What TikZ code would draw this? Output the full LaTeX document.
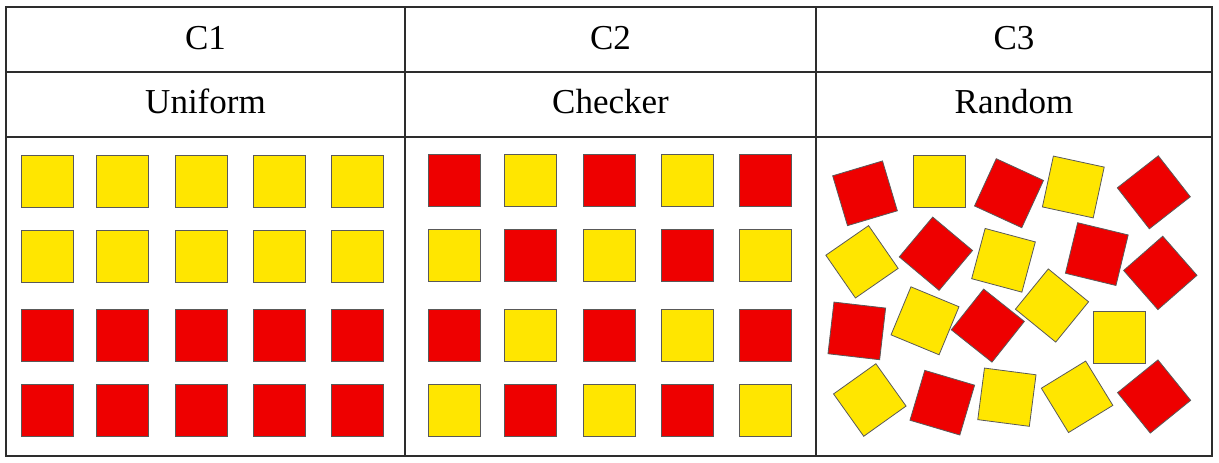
\documentclass[tikz,border=0pt]{standalone}
\usepackage{fontspec}
\setmainfont{Liberation Serif}
\usepackage{xcolor}
\definecolor{sqyellow}{RGB}{255,230,0}
\definecolor{sqred}{RGB}{238,0,0}
\definecolor{gridline}{RGB}{45,45,45}

\begin{document}
\begin{tikzpicture}[x=1pt, y=-1pt]
  \tikzset{
    yellowsq/.style={
      draw=black!65,
      line width=0.8pt,
      minimum size=52pt,
      inner sep=0pt,
      anchor=center,
      fill=sqyellow
    },
    redsq/.style={
      draw=black!65,
      line width=0.8pt,
      minimum size=52pt,
      inner sep=0pt,
      anchor=center,
      fill=sqred
    },
    header/.style={
      font=\fontsize{35}{42}\selectfont,
      anchor=base,
      inner sep=0pt
    }
  }
  \useasboundingbox (0,0) rectangle (1219,463);

  % Draw the table frame
  \draw[gridline, line width=1.4pt] (6,7) rectangle (1212,456);
  \draw[gridline, line width=1.4pt] (6,72) -- (1212,72);
  \draw[gridline, line width=1.4pt] (6,137) -- (1212,137);
  \draw[gridline, line width=1.4pt] (405,7) -- (405,456);
  \draw[gridline, line width=1.4pt] (816,7) -- (816,456);

  % Column headers
  \node[header] at (205.5, 49.5) (c1) {C1};
  \node[header] at (610.5, 49.5) (c2) {C2};
  \node[header] at (1014, 49.5) (c3) {C3};
  \node[header] at (205.5, 113) (uniform) {Uniform};
  \node[header] at (610.5, 113) (checker) {Checker};
  \node[header] at (1014, 113) (random) {Random};

  % C1: uniform rows
  \node[yellowsq] at (47.5, 181) (uni11) {};
  \node[yellowsq] at (122, 181) (uni12) {};
  \node[yellowsq] at (201, 181) (uni13) {};
  \node[yellowsq] at (279, 181) (uni14) {};
  \node[yellowsq] at (357, 181) (uni15) {};
  \node[yellowsq] at (47.5, 256) (uni21) {};
  \node[yellowsq] at (122, 256) (uni22) {};
  \node[yellowsq] at (201, 256) (uni23) {};
  \node[yellowsq] at (279, 256) (uni24) {};
  \node[yellowsq] at (357, 256) (uni25) {};
  \node[redsq] at (47.5, 335.5) (uni31) {};
  \node[redsq] at (122, 335.5) (uni32) {};
  \node[redsq] at (201, 335.5) (uni33) {};
  \node[redsq] at (279, 335.5) (uni34) {};
  \node[redsq] at (357, 335.5) (uni35) {};
  \node[redsq] at (47.5, 410.5) (uni41) {};
  \node[redsq] at (122, 410.5) (uni42) {};
  \node[redsq] at (201, 410.5) (uni43) {};
  \node[redsq] at (279, 410.5) (uni44) {};
  \node[redsq] at (357, 410.5) (uni45) {};

  % C2: checker pattern
  \node[redsq] at (454, 180.5) (chk11) {};
  \node[yellowsq] at (530, 180.5) (chk12) {};
  \node[redsq] at (609, 180.5) (chk13) {};
  \node[yellowsq] at (687.5, 180.5) (chk14) {};
  \node[redsq] at (765.5, 180.5) (chk15) {};
  \node[yellowsq] at (454, 255.5) (chk21) {};
  \node[redsq] at (530, 255.5) (chk22) {};
  \node[yellowsq] at (609, 255.5) (chk23) {};
  \node[redsq] at (687.5, 255.5) (chk24) {};
  \node[yellowsq] at (765.5, 255.5) (chk25) {};
  \node[redsq] at (454, 335) (chk31) {};
  \node[yellowsq] at (530, 335) (chk32) {};
  \node[redsq] at (609, 335) (chk33) {};
  \node[yellowsq] at (687.5, 335) (chk34) {};
  \node[redsq] at (765.5, 335) (chk35) {};
  \node[yellowsq] at (454, 410) (chk41) {};
  \node[redsq] at (530, 410) (chk42) {};
  \node[yellowsq] at (609, 410) (chk43) {};
  \node[redsq] at (687.5, 410) (chk44) {};
  \node[yellowsq] at (765.5, 410) (chk45) {};

  % C3: random placement and tilt
  \node[redsq, rotate=16.6] at (865, 193.3) (rnd1) {};
  \node[yellowsq] at (939.3, 181.2) (rnd2) {};
  \node[redsq, rotate=-24.7] at (1009, 193.2) (rnd3) {};
  \node[yellowsq, rotate=-12.2] at (1073.3, 187) (rnd4) {};
  \node[redsq, rotate=38] at (1153.8, 192.3) (rnd5) {};
  \node[yellowsq, rotate=34.7] at (862, 261.8) (rnd6) {};
  \node[redsq, rotate=-40] at (935.9, 253.7) (rnd7) {};
  \node[yellowsq, rotate=-15] at (1003.5, 260.3) (rnd8) {};
  \node[redsq, rotate=-13.6] at (1096.8, 254.1) (rnd9) {};
  \node[redsq, rotate=41.2] at (1160.3, 272.9) (rnd10) {};
  \node[redsq, rotate=-6.6] at (856.8, 330.9) (rnd11) {};
  \node[yellowsq, rotate=-22.5] at (925, 320.8) (rnd12) {};
  \node[redsq, rotate=-38.5] at (987.8, 325.6) (rnd13) {};
  \node[yellowsq, rotate=-39.2] at (1052, 305.5) (rnd14) {};
  \node[yellowsq] at (1119.7, 337) (rnd15) {};
  \node[yellowsq, rotate=35.5] at (869.8, 400) (rnd16) {};
  \node[redsq, rotate=-16.5] at (942.3, 402.7) (rnd17) {};
  \node[yellowsq, rotate=-7.4] at (1006.9, 397.2) (rnd18) {};
  \node[yellowsq, rotate=31.5] at (1077.1, 396.8) (rnd19) {};
  \node[redsq, rotate=39] at (1154.1, 396.5) (rnd20) {};

\end{tikzpicture}
\end{document}
